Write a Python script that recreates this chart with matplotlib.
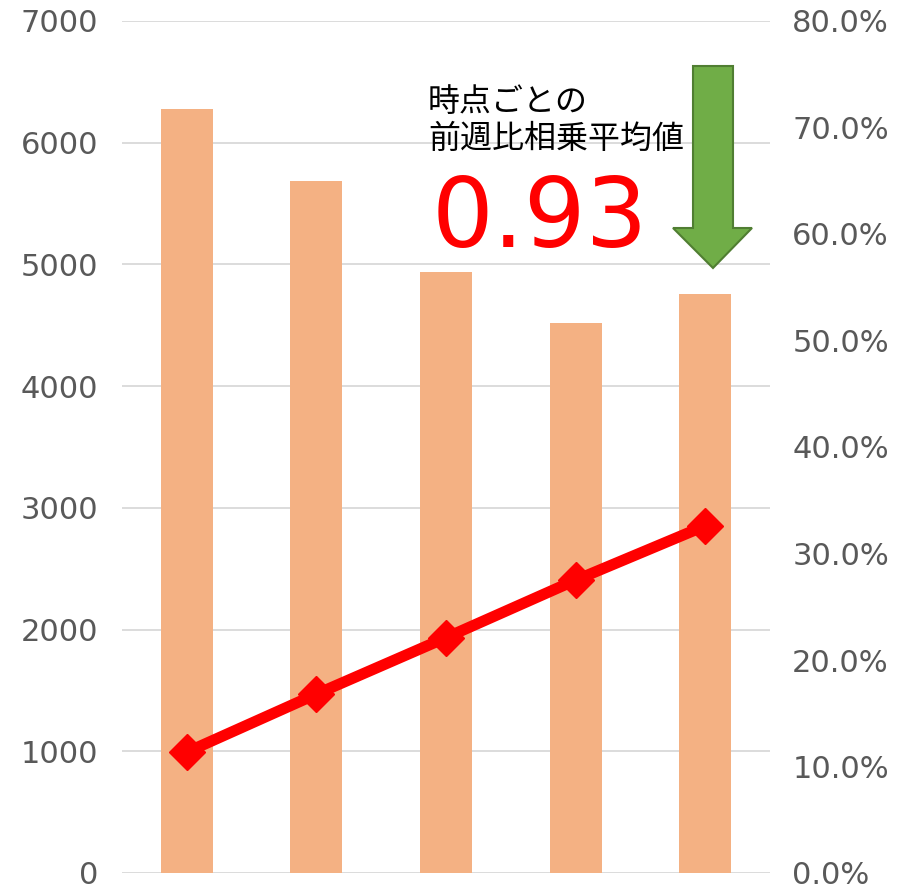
import matplotlib
matplotlib.use("Agg")
import matplotlib.pyplot as plt
from matplotlib.patches import Polygon
from matplotlib.ticker import FuncFormatter, MultipleLocator

plt.rcParams['font.family'] = ['Noto Sans CJK JP', 'DejaVu Sans']

categories = ["1", "2", "3", "4", "5"]
counts = [6280, 5685, 4935, 4515, 4755]
ratios = [0.1135, 0.168, 0.221, 0.275, 0.326]
annotation_title = "時点ごとの\n前週比相乗平均値"
annotation_value = "0.93"

W, H = 897, 893
fig = plt.figure(figsize=(W / 100, H / 100), dpi=100)

def fx(px):
    return px / W

def fy(py):
    return 1 - py / H

ax = fig.add_axes([fx(122), fy(873), fx(770) - fx(122), fy(21) - fy(873)])
x = list(range(len(categories)))
ax.bar(x, counts, width=0.4, color="#F4B183", zorder=2)
ax.set_xlim(-0.5, len(categories) - 0.5)
ax.set_ylim(0, 7000)
ax.yaxis.set_major_locator(MultipleLocator(1000))
ax.grid(axis="y", color="#D9D9D9", linewidth=1.3, zorder=0)
ax.set_axisbelow(True)
ax.set_xticks([])
for s in ax.spines.values():
    s.set_visible(False)
ax.tick_params(axis="y", length=0, pad=17, labelsize=22, labelcolor="#595959")

ax2 = ax.twinx()
ax2.plot(x, ratios, color="#FF0000", linewidth=8, marker="D", markersize=18,
         markerfacecolor="#FF0000", markeredgecolor="#FF0000", zorder=3)
ax2.set_ylim(0, 0.8)
ax2.yaxis.set_major_locator(MultipleLocator(0.1))
ax2.yaxis.set_major_formatter(FuncFormatter(lambda v, p: f"{v*100:.1f}%"))
for s in ax2.spines.values():
    s.set_visible(False)
ax2.tick_params(axis="y", length=0, pad=16, labelsize=22, labelcolor="#595959")

for lab in ax.get_yticklabels() + ax2.get_yticklabels():
    lab.set_fontfamily("DejaVu Sans")

fig.text(fx(428), fy(86), annotation_title, fontsize=23, color="#000000",
         va="top", ha="left", linespacing=1.18)
fig.text(fx(432), fy(247), annotation_value, fontsize=70, color="#FF0000",
         va="baseline", ha="left", family="DejaVu Sans")

arrow_px = [(693, 66), (733, 66), (733, 228), (752, 228), (713, 268),
            (673, 228), (693, 228)]
arrow = Polygon([(fx(a), fy(b)) for a, b in arrow_px], closed=True,
                transform=fig.transFigure, facecolor="#70AD47",
                edgecolor="#507E32", linewidth=1.5)
fig.patches.append(arrow)

fig.savefig("out.png", dpi=100)
